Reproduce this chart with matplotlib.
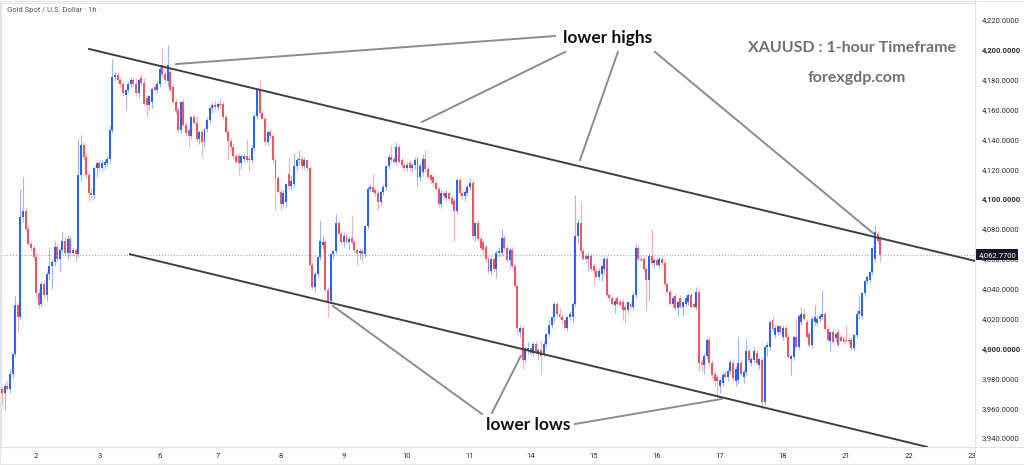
import matplotlib
matplotlib.use("Agg")
import matplotlib.pyplot as plt
from matplotlib.lines import Line2D
from matplotlib.transforms import blended_transform_factory

# hourly candles (open, high, low, close), one list per trading day
day_01 = [(3973, 3975, 3962, 3970), (3970, 3977, 3959, 3975), (3975, 3978, 3972, 3973),
          (3973, 3986, 3970, 3983), (3983, 3997, 3980, 3996), (3996, 4035, 3994, 4029),
          (4029, 4031, 4011, 4021), (4021, 4107, 4019, 4088), (4088, 4115, 4085, 4092),
          (4092, 4095, 4079, 4080), (4080, 4083, 4069, 4070), (4070, 4072, 4065, 4067),
          (4067, 4069, 4059, 4061)]
day_02 = [(4061, 4064, 4034, 4037), (4037, 4040, 4027, 4029), (4030, 4045, 4028, 4043),
          (4043, 4046, 4034, 4036), (4036, 4052, 4032, 4050), (4050, 4067, 4046, 4055),
          (4055, 4060, 4040, 4058), (4058, 4072, 4055, 4068), (4068, 4070, 4058, 4060),
          (4060, 4068, 4052, 4066), (4066, 4078, 4063, 4072), (4072, 4075, 4062, 4064),
          (4064, 4076, 4060, 4073), (4073, 4076, 4061, 4064), (4064, 4068, 4062, 4066),
          (4066, 4067, 4058, 4063), (4063, 4140, 4061, 4116), (4116, 4143, 4112, 4136),
          (4136, 4138, 4126, 4128), (4128, 4131, 4114, 4116), (4116, 4119, 4099, 4104),
          (4104, 4108, 4100, 4103), (4103, 4122, 4101, 4121), (4121, 4125, 4115, 4124)]
day_03 = [(4124, 4126, 4118, 4121), (4121, 4126, 4119, 4124), (4123, 4127, 4120, 4125),
          (4124, 4129, 4122, 4127), (4127, 4150, 4124, 4146), (4146, 4194, 4144, 4182),
          (4182, 4186, 4179, 4183), (4183, 4185, 4178, 4180), (4180, 4182, 4175, 4177),
          (4177, 4179, 4169, 4171), (4170, 4174, 4160, 4173), (4173, 4179, 4171, 4177),
          (4177, 4182, 4175, 4180), (4180, 4182, 4175, 4177), (4177, 4181, 4169, 4171),
          (4171, 4181, 4168, 4180), (4181, 4184, 4176, 4178), (4178, 4181, 4163, 4164),
          (4168, 4170, 4155, 4163), (4163, 4170, 4160, 4169), (4165, 4175, 4161, 4174),
          (4175, 4177, 4172, 4173), (4173, 4179, 4171, 4177)]
day_06 = [(4177, 4189, 4175, 4187), (4190, 4201, 4182, 4184), (4184, 4186, 4178, 4180),
          (4179, 4203, 4176, 4190), (4185, 4188, 4172, 4173), (4175, 4177, 4164, 4165),
          (4165, 4167, 4157, 4159), (4160, 4162, 4145, 4146), (4146, 4166, 4144, 4165),
          (4165, 4167, 4149, 4150), (4150, 4152, 4143, 4144), (4146, 4148, 4135, 4142),
          (4142, 4156, 4140, 4155), (4155, 4157, 4150, 4151), (4151, 4156, 4139, 4140),
          (4140, 4146, 4137, 4145), (4145, 4147, 4128, 4138), (4138, 4148, 4135, 4147),
          (4147, 4155, 4145, 4153), (4153, 4162, 4151, 4161), (4161, 4165, 4158, 4163),
          (4163, 4166, 4160, 4162)]
day_07 = [(4162, 4165, 4160, 4164), (4164, 4168, 4161, 4163), (4164, 4166, 4154, 4155),
          (4155, 4157, 4144, 4145), (4145, 4147, 4126, 4139), (4139, 4141, 4133, 4135),
          (4135, 4137, 4127, 4129), (4129, 4131, 4124, 4125), (4129, 4131, 4116, 4124),
          (4124, 4130, 4120, 4129), (4127, 4131, 4125, 4129), (4129, 4140, 4125, 4126),
          (4127, 4130, 4119, 4126), (4126, 4136, 4124, 4134), (4134, 4158, 4132, 4156),
          (4156, 4174, 4154, 4173), (4173, 4180, 4156, 4158), (4158, 4160, 4153, 4154),
          (4154, 4156, 4136, 4138), (4138, 4146, 4136, 4145), (4145, 4147, 4141, 4142),
          (4142, 4144, 4124, 4126), (4126, 4128, 4093, 4114), (4114, 4116, 4104, 4105)]
day_08 = [(4105, 4107, 4093, 4097), (4097, 4106, 4095, 4104), (4098, 4111, 4095, 4110),
          (4117, 4128, 4107, 4109), (4109, 4116, 4106, 4112), (4110, 4131, 4108, 4122),
          (4122, 4128, 4119, 4126), (4126, 4133, 4123, 4127), (4127, 4129, 4120, 4122),
          (4122, 4128, 4120, 4126), (4126, 4127, 4119, 4121), (4121, 4123, 4055, 4056),
          (4056, 4058, 4040, 4041), (4041, 4052, 4038, 4050), (4050, 4062, 4048, 4061),
          (4061, 4086, 4059, 4072), (4069, 4075, 4066, 4071), (4071, 4073, 4038, 4039),
          (4039, 4041, 4021, 4032), (4032, 4063, 4030, 4063), (4063, 4066, 4060, 4065),
          (4065, 4090, 4063, 4084), (4084, 4086, 4076, 4077), (4077, 4079, 4070, 4071)]
day_09 = [(4071, 4078, 4068, 4075), (4075, 4077, 4070, 4071), (4071, 4075, 4066, 4073),
          (4074, 4089, 4070, 4071), (4071, 4073, 4064, 4066), (4066, 4067, 4056, 4064),
          (4064, 4067, 4060, 4065), (4065, 4067, 4058, 4063), (4063, 4083, 4061, 4082),
          (4082, 4109, 4080, 4107), (4107, 4110, 4105, 4108), (4108, 4117, 4104, 4105),
          (4106, 4108, 4102, 4104), (4104, 4106, 4093, 4098), (4098, 4106, 4096, 4105),
          (4105, 4110, 4103, 4108), (4108, 4123, 4106, 4122), (4122, 4130, 4120, 4128),
          (4128, 4136, 4124, 4126), (4127, 4129, 4124, 4125), (4125, 4138, 4123, 4135),
          (4135, 4137, 4124, 4125), (4126, 4128, 4121, 4123), (4123, 4124, 4119, 4121)]
day_10 = [(4121, 4125, 4119, 4123), (4124, 4126, 4119, 4121), (4121, 4124, 4118, 4123),
          (4123, 4128, 4120, 4126), (4127, 4129, 4108, 4115), (4115, 4124, 4112, 4122),
          (4118, 4130, 4116, 4127), (4127, 4133, 4118, 4120), (4120, 4122, 4114, 4115),
          (4116, 4117, 4111, 4113), (4115, 4116, 4109, 4111), (4111, 4112, 4106, 4107),
          (4107, 4109, 4095, 4097), (4097, 4106, 4094, 4104), (4104, 4106, 4100, 4102),
          (4101, 4106, 4099, 4104), (4104, 4105, 4099, 4100), (4101, 4103, 4096, 4097),
          (4099, 4101, 4072, 4092), (4092, 4114, 4090, 4113), (4113, 4115, 4103, 4104),
          (4104, 4106, 4100, 4102), (4102, 4106, 4099, 4105), (4104, 4110, 4102, 4108)]
day_11 = [(4108, 4114, 4106, 4111), (4111, 4113, 4074, 4075), (4075, 4085, 4072, 4084),
          (4084, 4086, 4072, 4073), (4073, 4075, 4066, 4067), (4071, 4073, 4063, 4066),
          (4068, 4070, 4058, 4060), (4060, 4062, 4050, 4052), (4052, 4062, 4049, 4060),
          (4060, 4061, 4051, 4053), (4053, 4066, 4047, 4064), (4064, 4068, 4061, 4065),
          (4064, 4080, 4062, 4074), (4074, 4076, 4066, 4067), (4067, 4069, 4058, 4059),
          (4059, 4068, 4054, 4066), (4066, 4068, 4054, 4055), (4055, 4057, 4041, 4042),
          (4042, 4044, 4010, 4014), (4011, 4016, 4008, 4014), (4014, 4016, 3986, 3992),
          (3992, 4001, 3990, 4000), (3998, 4004, 3996, 4000)]
day_14 = [(4000, 4001, 3996, 3997), (3997, 4004, 3995, 4003), (4003, 4005, 3997, 3998),
          (3996, 4000, 3992, 3999), (3999, 4006, 3983, 3995), (3996, 4005, 3994, 4003),
          (4003, 4010, 4001, 4010), (4010, 4019, 4008, 4016), (4016, 4022, 4014, 4021),
          (4021, 4032, 4018, 4030), (4030, 4031, 4021, 4023), (4023, 4027, 4020, 4021),
          (4021, 4023, 4017, 4019), (4019, 4020, 4013, 4014), (4014, 4022, 4012, 4021),
          (4021, 4025, 4019, 4023), (4021, 4031, 4017, 4030), (4030, 4103, 4028, 4075),
          (4075, 4087, 4070, 4084), (4084, 4099, 4063, 4065), (4065, 4067, 4059, 4060),
          (4062, 4064, 4058, 4060), (4060, 4064, 4052, 4062), (4062, 4064, 4052, 4053)]
day_15 = [(4055, 4057, 4042, 4052), (4052, 4054, 4047, 4048), (4048, 4054, 4046, 4052),
          (4050, 4056, 4045, 4055), (4053, 4062, 4050, 4060), (4060, 4062, 4035, 4036),
          (4036, 4037, 4032, 4034), (4034, 4036, 4029, 4030), (4029, 4034, 4024, 4032),
          (4034, 4036, 4029, 4030), (4031, 4033, 4028, 4029), (4031, 4033, 4019, 4026),
          (4028, 4030, 4017, 4026), (4026, 4031, 4024, 4031), (4030, 4032, 4027, 4028),
          (4028, 4038, 4026, 4036), (4036, 4070, 4034, 4067), (4067, 4069, 4059, 4060),
          (4060, 4062, 4058, 4059), (4060, 4062, 4052, 4053), (4053, 4055, 4026, 4046),
          (4046, 4064, 4032, 4062), (4062, 4080, 4056, 4057), (4057, 4061, 4054, 4059)]
day_16 = [(4059, 4061, 4055, 4056), (4056, 4062, 4054, 4060), (4060, 4062, 4056, 4057),
          (4057, 4059, 4042, 4043), (4043, 4044, 4037, 4038), (4038, 4040, 4029, 4030),
          (4030, 4036, 4028, 4034), (4035, 4037, 4025, 4027), (4027, 4032, 4022, 4031),
          (4034, 4036, 4027, 4028), (4028, 4032, 4022, 4031), (4030, 4036, 4028, 4034),
          (4031, 4037, 4029, 4036), (4036, 4037, 4027, 4028), (4030, 4031, 4027, 4028),
          (4028, 4041, 4026, 4038), (4038, 4040, 3985, 3990), (3991, 3993, 3985, 3989),
          (3989, 3997, 3983, 3995), (3995, 4007, 3993, 4006), (4006, 4008, 3988, 3990),
          (3990, 3992, 3980, 3982), (3983, 3985, 3975, 3978), (3981, 3983, 3967, 3978)]
day_17 = [(3975, 3980, 3970, 3979), (3977, 3984, 3975, 3982), (3983, 3985, 3980, 3981),
          (3981, 3986, 3978, 3985), (3985, 3993, 3983, 3991), (3990, 3993, 3978, 3980),
          (3978, 3988, 3975, 3986), (3979, 4008, 3976, 3990), (3990, 3992, 3982, 3983),
          (3981, 3986, 3977, 3984), (3984, 4007, 3982, 3998), (3998, 4000, 3991, 3992),
          (3990, 3995, 3988, 3993), (3992, 4001, 3990, 3998), (3997, 3999, 3989, 3990),
          (3989, 3994, 3986, 3993), (3992, 3994, 3959, 3964), (3964, 4002, 3962, 4001),
          (4001, 4004, 3995, 4002), (4001, 4019, 3999, 4018), (4019, 4022, 4012, 4013),
          (4009, 4016, 4007, 4014), (4011, 4016, 4009, 4015), (4015, 4016, 4010, 4011)]
day_18 = [(4008, 4016, 4006, 4014), (4014, 4016, 4007, 4008), (4008, 4010, 3993, 3994),
          (3993, 3996, 3982, 3995), (3994, 4009, 3992, 4008), (4008, 4020, 4000, 4001),
          (4001, 4023, 3999, 4022), (4018, 4028, 4016, 4023), (4023, 4027, 4019, 4020),
          (4018, 4020, 4007, 4008), (4010, 4012, 4001, 4002), (4002, 4022, 4000, 4020),
          (4018, 4029, 4016, 4021), (4017, 4022, 4015, 4020), (4020, 4024, 4018, 4022),
          (4021, 4039, 4019, 4023), (4023, 4025, 4012, 4013), (4013, 4015, 4005, 4006),
          (4005, 4012, 3998, 4011), (4011, 4013, 4003, 4004), (4007, 4011, 4004, 4010),
          (4011, 4013, 4001, 4002), (4008, 4010, 4004, 4005), (4007, 4008, 4003, 4004)]
day_21 = [(4006, 4016, 4004, 4005), (4005, 4007, 4003, 4006), (4006, 4008, 3999, 4000),
          (4000, 4010, 3998, 4009), (4009, 4026, 4007, 4023), (4023, 4035, 4020, 4025),
          (4022, 4038, 4020, 4037), (4037, 4046, 4035, 4045), (4045, 4049, 4043, 4048),
          (4046, 4052, 4044, 4051), (4051, 4068, 4049, 4067), (4060, 4083, 4058, 4078),
          (4077, 4079, 4070, 4072), (4073, 4075, 4058, 4062.77)]

sessions = [("1", day_01), ("2", day_02), ("3", day_03), ("6", day_06), ("7", day_07),
            ("8", day_08), ("9", day_09), ("10", day_10), ("11", day_11), ("14", day_14),
            ("15", day_15), ("16", day_16), ("17", day_17), ("18", day_18), ("21", day_21)]
future_days = ["22", "23"]
bars_per_day = 24

price_ticks = list(range(3940, 4221, 20))
bold_ticks = [4000, 4100, 4200]

# hand drawn channel, (candle index, price)
upper_trend_x = [33.1, 370.6]
upper_trend_y = [4200.6, 4058.4]
lower_trend_x = [48.7, 351.7]
lower_trend_y = [4063.1, 3934.1]

# callouts: text position and pointer lines (from, to)
highs_pos = (230.4, 4208.0)
highs_lines = [((210.3, 4209.3), (66.2, 4190.5)), ((214.1, 4198.6), (159.7, 4151.7)),
               ((234.2, 4198.6), (219.8, 4126.2)), ((248.3, 4198.6), (331.2, 4077.3))]
lows_pos = (200.0, 3948.7)
lows_lines = [((182.5, 3956.1), (125.9, 4028.4)), ((186.3, 3956.8), (197.3, 3995.0)),
              ((217.9, 3949.4), (273.8, 3966.2))]
info_pos = (323.2, 4201.0)
site_pos = (325.1, 4181.0)

UP = "#2962ff"
DOWN = "#f7525f"

bars = []
day_starts = []
day_names = []
for name, day in sessions:
    day_starts.append(len(bars))
    day_names.append(name)
    bars.extend(day)
for k, name in enumerate(future_days):
    day_starts.append(day_starts[-1] + bars_per_day)
    day_names.append(name)

fig = plt.figure(figsize=(10.24, 4.65), dpi=100)
ax = fig.add_axes([1 / 1024, 18 / 465, 974 / 1024, 444 / 465])

for i, (o, h, l, c) in enumerate(bars):
    col = UP if c >= o else DOWN
    ax.vlines(i, l, h, color=col, alpha=0.45, linewidth=0.8, zorder=2)
    ax.bar(i, c - o, bottom=o, width=0.75, color=col, linewidth=0, zorder=3)

last = bars[-1][3]
ax.axhline(last, color="#9598a1", linestyle=(0, (1, 2)), linewidth=0.7, zorder=1)

ax.plot(upper_trend_x, upper_trend_y, color="#3f3f3f", linewidth=1.4, zorder=4)
ax.plot(lower_trend_x, lower_trend_y, color="#3f3f3f", linewidth=1.4, zorder=4)

for (x0, y0), (x1, y1) in highs_lines + lows_lines:
    ax.plot([x0, x1], [y0, y1], color="#8c8c8c", linewidth=1.4, zorder=4)

ax.text(*highs_pos, "lower highs", family="Lato", fontweight="bold", fontsize=12.5,
        color="#111111", ha="center", va="center", zorder=5)
ax.text(*lows_pos, "lower lows", family="Lato", fontweight="bold", fontsize=12.5,
        color="#111111", ha="center", va="center", zorder=5)
ax.text(*info_pos, "XAUUSD : 1-hour Timeframe", family="Lato", fontweight="bold",
        fontsize=11.5, color="#707070", ha="center", va="center", zorder=5)
ax.text(*site_pos, "forexgdp.com", family="Lato", fontweight="bold",
        fontsize=11.5, color="#707070", ha="center", va="center", zorder=5)

ax.set_xlim(-0.38, 370.0)
ax.set_ylim(3934.0, 4231.4)

ax.yaxis.tick_right()
ax.set_yticks(price_ticks)
ax.set_yticklabels([f"{v:,.4f}" for v in price_ticks])
for lab, v in zip(ax.get_yticklabels(), price_ticks):
    lab.set_fontweight("bold" if v in bold_ticks else "normal")
ax.tick_params(axis="y", length=0, pad=5, labelsize=5.5, labelcolor="#2a2e39")
ax.set_xticks(day_starts[1:])
ax.set_xticklabels(day_names[1:])
ax.tick_params(axis="x", length=0, pad=4, labelsize=5.5, labelcolor="#2a2e39")
for lab in ax.get_xticklabels() + ax.get_yticklabels():
    lab.set_family("Roboto")

for sp in ax.spines.values():
    sp.set_color("#e0e3eb")
    sp.set_linewidth(0.8)

trans = blended_transform_factory(ax.transAxes, ax.transData)
ax.text(1.0035, last, f"{last:,.4f}", transform=trans, family="Roboto", fontsize=5.5,
        color="white", ha="left", va="center", zorder=6,
        bbox=dict(boxstyle="square,pad=0.3", facecolor="#131722", edgecolor="none"))

fig.text(7 / 1024, 1 - 10 / 465, "Gold Spot / U.S. Dollar \u00b7 1h \u00b7", family="Roboto",
         fontsize=5.5, color="#555555", ha="left", va="center")

fig.add_artist(Line2D([975 / 1024, 975 / 1024], [0, 1], color="#e0e3eb", linewidth=0.8))
fig.add_artist(Line2D([0, 1], [18 / 465, 18 / 465], color="#e0e3eb", linewidth=0.8))
fig.add_artist(Line2D([0, 1, 1, 0, 0], [0.002, 0.002, 0.998, 0.998, 0.002],
                      color="#e6e6e6", linewidth=0.8))

fig.savefig("out.png", dpi=100)
